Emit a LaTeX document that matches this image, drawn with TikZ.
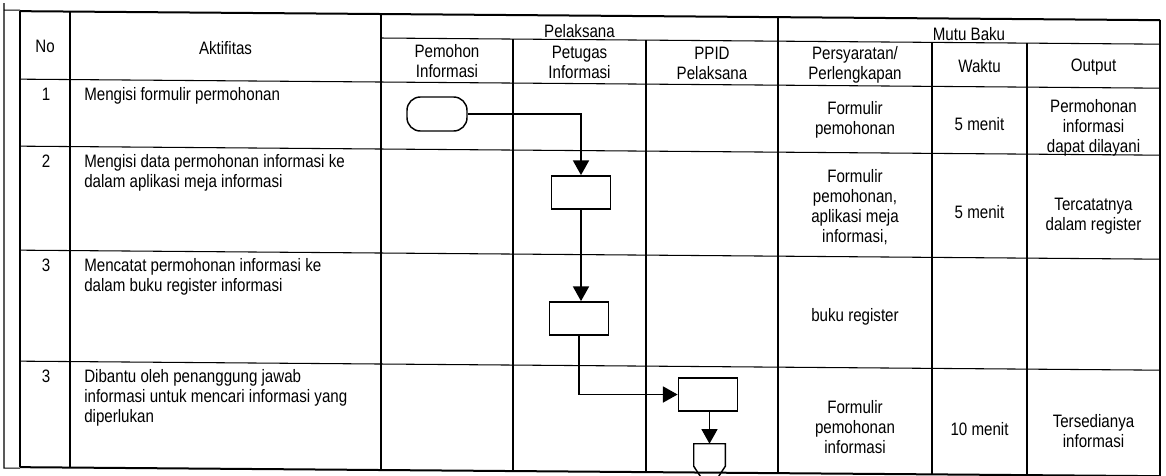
\documentclass[tikz,border=0pt]{standalone}
\usepackage{fontspec}
\setmainfont{Liberation Sans}[FakeStretch=0.84]
\usetikzlibrary{arrows.meta,calc}
\newcommand\tabfont{\fontsize{13.5}{15}\selectfont}
\begin{document}
\begin{tikzpicture}[x=0.75pt,y=-0.75pt,
  grid/.style={line width=0.8pt},
  edge/.style={line width=1.5pt},
  txt/.style={inner sep=0pt,align=center,font=\tabfont},
  ltxt/.style={inner sep=0pt,align=left,anchor=north west,font=\tabfont},
  num/.style={inner sep=0pt,anchor=north,font=\tabfont},
  flowbox/.style={draw,line width=1.1pt,inner sep=0pt,minimum width=44.5pt,minimum height=25pt},
  conn/.style={line width=1.2pt,-{Triangle[width=12pt,length=11pt]}}]
\useasboundingbox (0,0) rectangle (1166,475);
\clip (0,0) rectangle (1166,475);
\fill[white] (0,0) rectangle (1166,475);

\begin{scope}[cm={1,-0.0079,0,1,(0,0)}]
  % outer frame at the left
  \draw[grid] (4,3) -- (4,468) -- (20,468);
  \draw[grid] (4,10) -- (20,10);
  % horizontal lines
  \draw[edge] (20,11) -- (1160,11);
  \draw[grid] (381,35) -- (1160,35);
  \draw[grid] (20,79) -- (1160,79);
  \draw[grid] (20,146) -- (1160,146);
  \draw[grid] (20,250) -- (1160,250);
  \draw[grid] (20,361) -- (1160,361);
  \draw[edge] (20,467) -- (1160,467);
  % vertical lines
  \foreach \xx in {20,70,381,778,1160} \draw[grid] (\xx,11) -- (\xx,467);
  \foreach \xx in {513,646,932,1027} \draw[grid] (\xx,35) -- (\xx,467);

  % header
  \node[txt] (hno) at (45,46) {No};
  \node[txt] (hakt) at (225.5,46) {Aktifitas};
  \node[txt] (hpel) at (579.5,26) {Pelaksana};
  \node[txt] (hmutu) at (969,26) {Mutu Baku};
  \node[txt] (hpem) at (447,58) {Pemohon\\Informasi};
  \node[txt] (hpet) at (579.5,58) {Petugas\\Informasi};
  \node[txt] (hppid) at (712,58) {PPID\\Pelaksana};
  \node[txt] (hsyar) at (855,58.5) {Persyaratan/\\Perlengkapan};
  \node[txt] (hwak) at (979.5,58.5) {Waktu};
  \node[txt] (hout) at (1093.5,58.5) {Output};

  % numbers
  \node[num] (n1) at (46,87) {1};
  \node[num] (n2) at (46,154) {2};
  \node[num] (n3) at (46,258) {3};
  \node[num] (n4) at (46,369) {3};

  % activities
  \node[ltxt] (a1) at (84,87) {Mengisi formulir permohonan};
  \node[ltxt] (a2) at (84,154) {Mengisi data permohonan informasi ke\\dalam aplikasi meja informasi};
  \node[ltxt] (a3) at (84,258) {Mencatat permohonan informasi ke\\dalam buku register informasi};
  \node[ltxt] (a4) at (84,369) {Dibantu oleh penanggung jawab\\informasi untuk mencari informasi yang\\diperlukan};

  % mutu baku
  \node[txt] (s1) at (855,113) {Formulir\\pemohonan};
  \node[txt] (w1) at (979.5,116) {5 menit};
  \node[txt] (o1) at (1093.5,119) {Permohonan\\informasi\\dapat dilayani};
  \node[txt] (s2) at (855,200) {Formulir\\pemohonan,\\aplikasi meja\\informasi,};
  \node[txt] (w2) at (979.5,204) {5 menit};
  \node[txt] (o2) at (1093.5,208) {Tercatatnya\\dalam register};
  \node[txt] (s3) at (855,310) {buku register};
  \node[txt] (s4) at (855,420) {Formulir\\pemohonan\\informasi};
  \node[txt] (w4) at (979.5,421) {10 menit};
  \node[txt] (o4) at (1093.5,422) {Tersedianya\\informasi};
\end{scope}

% flowchart
\node[flowbox,rounded corners=10pt,minimum width=45pt,minimum height=25.5pt] (term) at (437,114) {};
\node[flowbox] (b1) at (581,192.5) {};
\node[flowbox] (b2) at (579,318.5) {};
\node[flowbox] (b3) at (708,394.5) {};
\node[inner sep=0pt,minimum width=23.25pt,minimum height=34.5pt] (off) at (709.5,467) {};
\draw[line width=1.1pt] (off.south) -- ([yshift=18pt]off.south west) -- (off.north west)
  -- (off.north east) -- ([yshift=18pt]off.south east) -- cycle;

\draw[conn] (term.east) -| (b1.north);
\draw[conn] (b1.south) -- (b1.south |- b2.north);
\draw[conn] (b2.south) |- (b3.west);
\draw[conn] (b3.south -| off.north) -- (off.north);
\end{tikzpicture}
\end{document}
